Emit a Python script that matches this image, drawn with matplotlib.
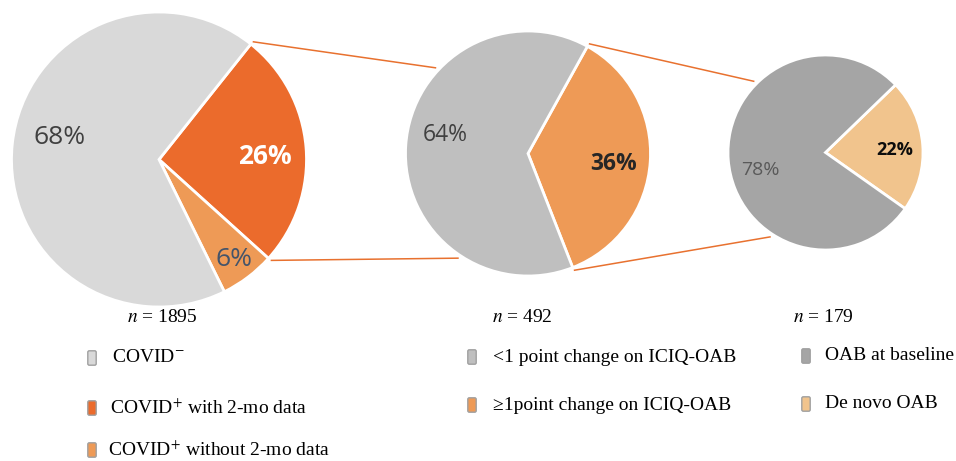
import numpy as np
import matplotlib
matplotlib.use('Agg')
import matplotlib.pyplot as plt
from matplotlib.patches import FancyBboxPatch

W, H = 956, 461

# data
pie1_vals = [26, 6, 68]
pie1_labels = ['26%', '6%', '68%']
pie1_colors = ['#EB6B2C', '#EE9A56', '#D9D9D9']
pie1_n = 1895

pie2_vals = [36, 64]
pie2_labels = ['36%', '64%']
pie2_colors = ['#EE9A56', '#BFBFBF']
pie2_n = 492

pie3_vals = [22, 78]
pie3_labels = ['22%', '78%']
pie3_colors = ['#F1C48D', '#A5A5A5']
pie3_n = 179

legend1 = ['COVID$^{-}$', 'COVID$^{+}$ with 2-mo data', 'COVID$^{+}$ without 2-mo data']
legend1_colors = ['#D9D9D9', '#EB6B2C', '#EE9A56']
legend2 = ['<1 point change on ICIQ-OAB', '\u22651point change on ICIQ-OAB']
legend2_colors = ['#BFBFBF', '#EE9A56']
legend3 = ['OAB at baseline', 'De novo OAB']
legend3_colors = ['#A5A5A5', '#F1C48D']

plt.rcParams['mathtext.fontset'] = 'stix'

def Y(py):
    return H - py

fig = plt.figure(figsize=(W / 100, H / 100), dpi=100)
ax = fig.add_axes([0, 0, 1, 1])
ax.set_xlim(0, W)
ax.set_ylim(0, H)
ax.set_aspect('equal')
ax.axis('off')

# pie geometry (pixels)
pies = [
    dict(vals=pie1_vals, colors=pie1_colors, c=(159, 159.5), r=147.5, start=51.5),
    dict(vals=pie2_vals, colors=pie2_colors, c=(528, 153.5), r=122.5, start=61),
    dict(vals=pie3_vals, colors=pie3_colors, c=(825.5, 152.5), r=97.5, start=44),
]
for p in pies:
    ax.pie(p['vals'], colors=p['colors'], center=(p['c'][0], Y(p['c'][1])),
           radius=p['r'], startangle=p['start'], counterclock=False,
           wedgeprops=dict(edgecolor='white', linewidth=2.0), frame=True)
ax.set_xlim(0, W)
ax.set_ylim(0, H)
ax.axis('off')

# connector lines from the exploded slice to the next pie
def edge_pt(p, ang, extra=3):
    cx, cy = p['c'][0], Y(p['c'][1])
    a = np.radians(ang)
    return cx + (p['r'] + extra) * np.cos(a), cy + (p['r'] + extra) * np.sin(a)

target_angles = [(137, -123.5), (135, -123)]
for i in range(2):
    src, dst = pies[i], pies[i + 1]
    a0 = src['start']
    a1 = src['start'] - src['vals'][0] / sum(src['vals']) * 360
    for a_src, a_dst in zip((a0, a1), target_angles[i]):
        x0, y0 = edge_pt(src, a_src)
        x1, y1 = edge_pt(dst, a_dst)
        ax.plot([x0, x1], [y0, y1], color='#E8712F', lw=1.1, solid_capstyle='butt')

# percentage labels
pfont = 'Open Sans'
ax.text(265, Y(157), pie1_labels[0], color='white', fontsize=19, fontweight='bold',
        family=pfont, ha='center', va='center')
ax.text(234, Y(259), pie1_labels[1], color='#44546A', fontsize=19,
        family=pfont, ha='center', va='center')
ax.text(60, Y(137), pie1_labels[2], color='#404040', fontsize=19,
        family=pfont, ha='center', va='center')
ax.text(614, Y(164), pie2_labels[0], color='#262626', fontsize=16.5, fontweight='bold',
        family=pfont, ha='center', va='center')
ax.text(445, Y(135), pie2_labels[1], color='#404040', fontsize=16.5,
        family=pfont, ha='center', va='center')
ax.text(895, Y(150), pie3_labels[0], color='#0D0D0D', fontsize=13, fontweight='bold',
        family=pfont, ha='center', va='center')
ax.text(760, Y(170), pie3_labels[1], color='#595959', fontsize=14,
        family=pfont, ha='center', va='center')

# n labels
sfont = 'Liberation Serif'
for x, n in [(162, pie1_n), (522, pie2_n), (823, pie3_n)]:
    ax.text(x, Y(317), r'$\mathit{n}$ = ' + str(n), fontsize=14, family=sfont,
            ha='center', va='center', color='black')

# legends
def legend_item(x, y, color, label, tx):
    ax.add_patch(FancyBboxPatch((x - 3, Y(y) - 6), 6, 12,
                                boxstyle='round,pad=1.2,rounding_size=1.5',
                                facecolor=color, edgecolor='#A0A0A0', lw=1.0))
    ax.text(tx, Y(y), label, fontsize=14, family=sfont, ha='left', va='center',
            color='black')

for lab, col, y, tx in zip(legend1, legend1_colors, [358, 408, 450], [112, 110, 108]):
    legend_item(92, y, col, lab, tx)
for lab, col, y in zip(legend2, legend2_colors, [357, 405]):
    legend_item(472, y, col, lab, 493)
for lab, col, y in zip(legend3, legend3_colors, [356, 404]):
    legend_item(806, y, col, lab, 825)

fig.savefig('out.png', dpi=100)
